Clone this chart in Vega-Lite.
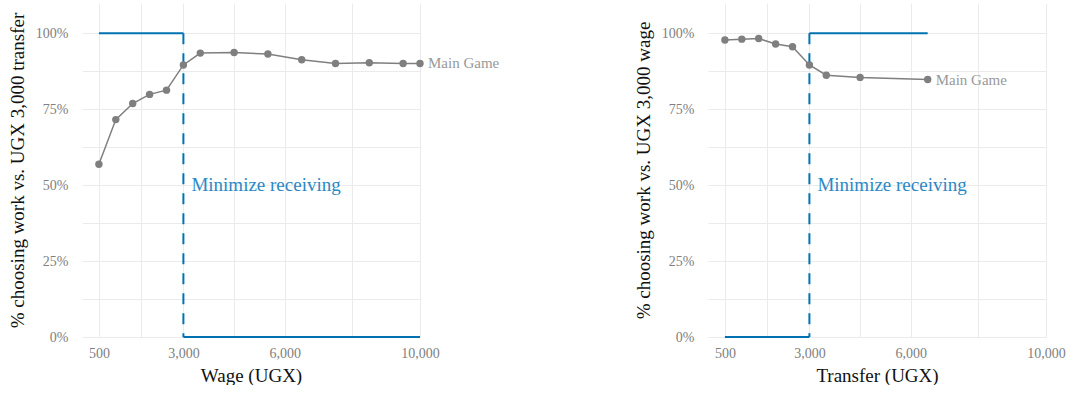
{
  "$schema": "https://vega.github.io/schema/vega-lite/v6.json",
  "padding": {"left": 8, "top": 3, "right": 0, "bottom": 0},
  "bounds": "flush",
  "spacing": 288,
  "datasets": {
    "wage": [
      {"amount": 500, "share": 0.569, "series": "Main Game"},
      {"amount": 1000, "share": 0.716, "series": "Main Game"},
      {"amount": 1500, "share": 0.769, "series": "Main Game"},
      {"amount": 2000, "share": 0.799, "series": "Main Game"},
      {"amount": 2500, "share": 0.813, "series": "Main Game"},
      {"amount": 3000, "share": 0.896, "series": "Main Game"},
      {"amount": 3500, "share": 0.935, "series": "Main Game"},
      {"amount": 4500, "share": 0.937, "series": "Main Game"},
      {"amount": 5500, "share": 0.932, "series": "Main Game"},
      {"amount": 6500, "share": 0.913, "series": "Main Game"},
      {"amount": 7500, "share": 0.901, "series": "Main Game"},
      {"amount": 8500, "share": 0.903, "series": "Main Game"},
      {"amount": 9500, "share": 0.901, "series": "Main Game"},
      {"amount": 10000, "share": 0.901, "series": "Main Game"}
    ],
    "transfer": [
      {"amount": 500, "share": 0.978, "series": "Main Game"},
      {"amount": 1000, "share": 0.981, "series": "Main Game"},
      {"amount": 1500, "share": 0.983, "series": "Main Game"},
      {"amount": 2000, "share": 0.965, "series": "Main Game"},
      {"amount": 2500, "share": 0.956, "series": "Main Game"},
      {"amount": 3000, "share": 0.896, "series": "Main Game"},
      {"amount": 3500, "share": 0.862, "series": "Main Game"},
      {"amount": 4500, "share": 0.855, "series": "Main Game"},
      {"amount": 6500, "share": 0.848, "series": "Main Game"}
    ],
    "wageRule": [
      {"amount": 500, "share": 1, "amountEnd": 3000, "shareEnd": 1, "kind": "solid"},
      {"amount": 3000, "share": 1, "amountEnd": 3000, "shareEnd": 0, "kind": "dashed"},
      {"amount": 3000, "share": 0, "amountEnd": 10000, "shareEnd": 0, "kind": "solid"}
    ],
    "transferRule": [
      {"amount": 500, "share": 0, "amountEnd": 3000, "shareEnd": 0, "kind": "solid"},
      {"amount": 3000, "share": 1, "amountEnd": 3000, "shareEnd": 0, "kind": "dashed"},
      {"amount": 3000, "share": 1, "amountEnd": 6500, "shareEnd": 1, "kind": "solid"}
    ],
    "ruleLabel": [
      {"amount": 3000, "share": 0.5, "label": "Minimize receiving"}
    ]
  },
  "config": {
    "view": {"stroke": null},
    "font": "'Liberation Serif', 'DejaVu Serif', serif",
    "text": {"font": "'Liberation Serif', 'DejaVu Serif', serif"},
    "axis": {
      "domain": false,
      "ticks": false,
      "tickSize": 0,
      "gridColor": "#ebebeb",
      "gridWidth": 1,
      "labelFont": "'Liberation Serif', 'DejaVu Serif', serif",
      "labelFontSize": 14,
      "labelColor": "#808080",
      "titleFont": "'Liberation Serif', 'DejaVu Serif', serif",
      "titleFontSize": 19,
      "titleFontWeight": "normal",
      "titleColor": "#111111"
    },
    "axisX": {"labelPadding": 9, "titlePadding": 6, "labelFlush": false},
    "axisY": {"labelPadding": 14, "titlePadding": 8}
  },
  "hconcat": [
    {
      "width": 338,
      "height": 334,
      "encoding": {
        "x": {
          "field": "amount",
          "type": "quantitative",
          "title": "Wage (UGX)",
          "scale": {"domain": [0, 10000], "nice": false, "zero": false},
          "axis": {
            "values": [500, 1750, 3000, 4500, 6000, 8000, 10000],
            "labelExpr": "indexof([500, 3000, 6000, 10000], datum.value) >= 0 ? format(datum.value, ',') : ''"
          }
        },
        "y": {
          "field": "share",
          "type": "quantitative",
          "title": "% choosing work vs. UGX 3,000 transfer",
          "scale": {"domain": [0, 1.1], "nice": false},
          "axis": {
            "values": [0, 0.125, 0.25, 0.375, 0.5, 0.625, 0.75, 0.875, 1],
            "labelExpr": "(datum.value * 100) % 25 == 0 ? format(datum.value, '.0%') : ''"
          }
        }
      },
      "layer": [
        {
          "data": {"name": "wageRule"},
          "transform": [{"filter": "datum.kind == 'solid'"}],
          "mark": {"type": "rule", "color": "#0072B2", "strokeWidth": 2},
          "encoding": {"x2": {"field": "amountEnd"}, "y2": {"field": "shareEnd"}}
        },
        {
          "data": {"name": "wageRule"},
          "transform": [{"filter": "datum.kind == 'dashed'"}],
          "mark": {"type": "rule", "color": "#0072B2", "strokeWidth": 2, "strokeDash": [11, 9]},
          "encoding": {"x2": {"field": "amountEnd"}, "y2": {"field": "shareEnd"}}
        },
        {
          "data": {"name": "wage"},
          "mark": {"type": "line", "color": "#7f7f7f", "strokeWidth": 1.5, "point": {"filled": true, "size": 55, "color": "#7f7f7f", "opacity": 1}}
        },
        {
          "data": {"name": "wage"},
          "transform": [{"filter": "datum.amount == 10000"}],
          "mark": {"type": "text", "align": "left", "baseline": "middle", "dx": 8, "fontSize": 15, "color": "#999999"},
          "encoding": {"text": {"field": "series"}}
        },
        {
          "data": {"name": "ruleLabel"},
          "mark": {"type": "text", "align": "left", "baseline": "middle", "dx": 8, "fontSize": 19, "color": "#2b88c5"},
          "encoding": {"text": {"field": "label"}}
        }
      ]
    },
    {
      "width": 338,
      "height": 334,
      "encoding": {
        "x": {
          "field": "amount",
          "type": "quantitative",
          "title": "Transfer (UGX)",
          "scale": {"domain": [0, 10000], "nice": false, "zero": false},
          "axis": {
            "values": [500, 1750, 3000, 4500, 6000, 8000, 10000],
            "labelExpr": "indexof([500, 3000, 6000, 10000], datum.value) >= 0 ? format(datum.value, ',') : ''"
          }
        },
        "y": {
          "field": "share",
          "type": "quantitative",
          "title": "% choosing work vs. UGX 3,000 wage",
          "scale": {"domain": [0, 1.1], "nice": false},
          "axis": {
            "values": [0, 0.125, 0.25, 0.375, 0.5, 0.625, 0.75, 0.875, 1],
            "labelExpr": "(datum.value * 100) % 25 == 0 ? format(datum.value, '.0%') : ''"
          }
        }
      },
      "layer": [
        {
          "data": {"name": "transferRule"},
          "transform": [{"filter": "datum.kind == 'solid'"}],
          "mark": {"type": "rule", "color": "#0072B2", "strokeWidth": 2},
          "encoding": {"x2": {"field": "amountEnd"}, "y2": {"field": "shareEnd"}}
        },
        {
          "data": {"name": "transferRule"},
          "transform": [{"filter": "datum.kind == 'dashed'"}],
          "mark": {"type": "rule", "color": "#0072B2", "strokeWidth": 2, "strokeDash": [11, 9]},
          "encoding": {"x2": {"field": "amountEnd"}, "y2": {"field": "shareEnd"}}
        },
        {
          "data": {"name": "transfer"},
          "mark": {"type": "line", "color": "#7f7f7f", "strokeWidth": 1.5, "point": {"filled": true, "size": 55, "color": "#7f7f7f", "opacity": 1}}
        },
        {
          "data": {"name": "transfer"},
          "transform": [{"filter": "datum.amount == 6500"}],
          "mark": {"type": "text", "align": "left", "baseline": "middle", "dx": 8, "fontSize": 15, "color": "#999999"},
          "encoding": {"text": {"field": "series"}}
        },
        {
          "data": {"name": "ruleLabel"},
          "mark": {"type": "text", "align": "left", "baseline": "middle", "dx": 8, "fontSize": 19, "color": "#2b88c5"},
          "encoding": {"text": {"field": "label"}}
        }
      ]
    }
  ]
}
